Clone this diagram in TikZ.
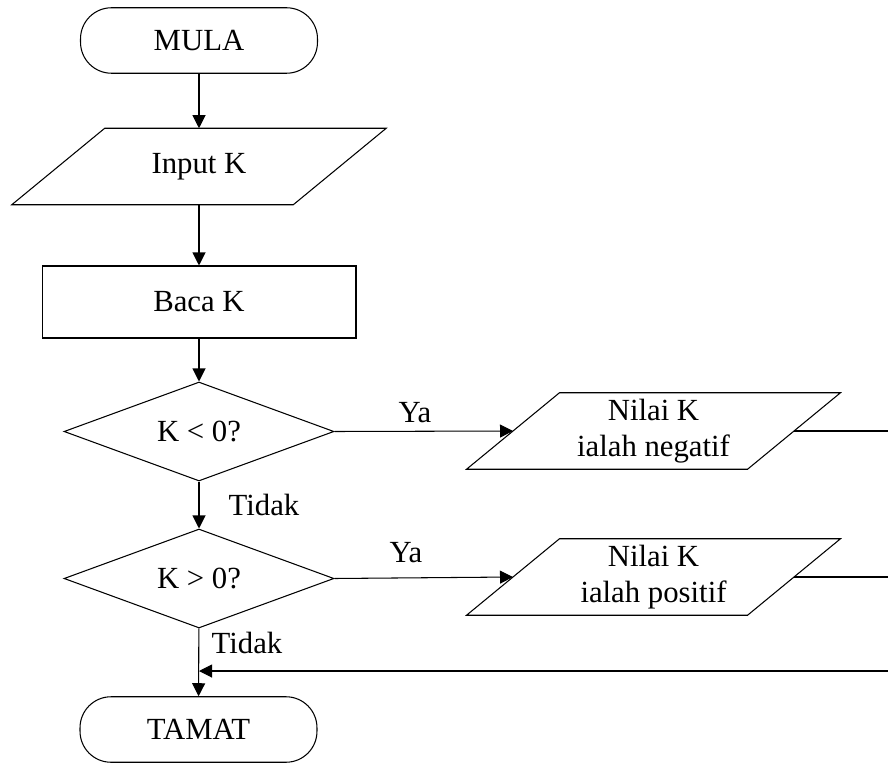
\documentclass[tikz,border=0pt]{standalone}
\usepackage{fontspec}
\setmainfont{Liberation Serif}
\usetikzlibrary{shapes.geometric,arrows.meta,calc}

\begin{document}
\begin{tikzpicture}[x=0.02cm, y=-0.02cm, line width=0.6pt,
  every node/.style={font=\fontsize{17.5}{20.5}\selectfont, align=center},
  terminal/.style={draw, rectangle, rounded corners=0.62cm,
    minimum width=4.74cm, minimum height=1.31cm},
  process/.style={draw, rectangle, minimum width=6.28cm, minimum height=1.44cm},
  decision/.style={draw, diamond, aspect=2.7, inner sep=0pt,
    minimum width=5.4cm, minimum height=1.98cm},
  iobox/.style={rectangle, inner sep=0pt, minimum width=5.6cm, minimum height=1.51cm},
  arr/.style={-{Triangle[length=0.26cm,width=0.26cm]}},
  lbl/.style={inner sep=0pt}
]
\clip (0,0) rectangle (888,763);

% main column
\node[terminal] (mula) at (199,40.5) {MULA};
\node[iobox, minimum width=5.61cm] (input) at (199,166.5) {Input K};
\node[process] (baca) at (199,302) {Baca K};
\node[decision] (d1) at (199,431.5) {K < 0?};
\node[decision] (d2) at (199,578.5) {K > 0?};
\node[terminal] (tamat) at (198.5,729.5) {TAMAT};

% output boxes
\node[iobox] (neg) at (653.5,431) {Nilai K\\ialah negatif};
\node[iobox] (pos) at (653.5,577) {Nilai K\\ialah positif};

% parallelogram outlines around the input/output nodes
\foreach \n in {input,neg,pos}{
  \draw ($(\n.south west)+(-46.5,0)$) -- ($(\n.north west)+(46.5,0)$)
     -- ($(\n.north east)+(46.5,0)$) -- ($(\n.south east)+(-46.5,0)$) -- cycle;
}

% connectors
\draw[arr] (mula) -- (input);
\draw[arr] (input) -- (baca);
\draw[arr] (baca) -- (d1);
\draw[arr] (d1) -- (d2);
\draw[arr] (d2) -- (tamat);
\draw[arr] (d1.east) -- (neg.west);
\draw[arr] (d2.east) -- (pos.west);

% return rail on the right
\coordinate (rail) at (910,0);
\coordinate (join) at (199,671);
\draw (neg.east) -- (neg.east -| rail) -- (pos.east -| rail);
\draw[arr] (pos.east) -- (pos.east -| rail) |- (join);

% branch labels
\node[lbl] (ya1) at (415,413) {Ya};
\node[lbl] (ya2) at (406,553) {Ya};
\node[lbl] (tidak1) at (264,505) {Tidak};
\node[lbl] (tidak2) at (247,643) {Tidak};
\end{tikzpicture}
\end{document}
